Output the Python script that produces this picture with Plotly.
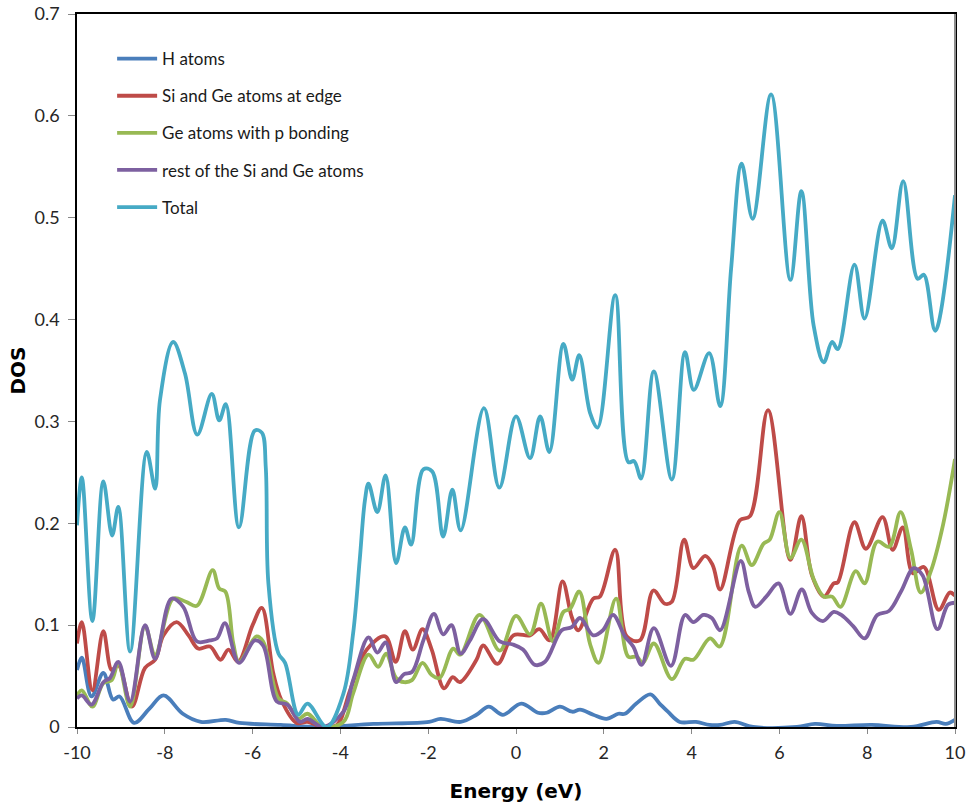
import plotly.graph_objects as go

# Energy grid (eV) and DOS values for each projection
e_h = [-10, -9.89, -9.67, -9.40, -9.18, -9.03, -8.70, -8.35, -8.03, -7.59, -7.18, -6.61, -6.30,
       -5.36, -4.5, -3.25, -1.98, -1.72, -1.26, -0.9, -0.62, -0.30, 0.12, 0.50, 0.70, 1.0, 1.28,
       1.46, 1.76, 2.06, 2.33, 2.48, 2.74, 3.06, 3.27, 3.46, 3.73, 4.1, 4.41, 4.65, 4.98, 5.4,
       6.4, 6.81, 7.3, 8.1, 9.0, 9.58, 9.79, 10]
dos_h = [0.056, 0.068, 0.030, 0.053, 0.027, 0.030, 0.004, 0.018, 0.031, 0.013, 0.005, 0.007, 0.004,
         0.002, 0.0, 0.003, 0.005, 0.008, 0.005, 0.012, 0.020, 0.012, 0.023, 0.014, 0.014, 0.020, 0.015,
         0.017, 0.012, 0.008, 0.013, 0.013, 0.023, 0.032, 0.023, 0.015, 0.005, 0.005, 0.002, 0.002, 0.005, 0.0,
         0.0, 0.003, 0.001, 0.002, 0.0, 0.005, 0.003, 0.007]

e_edge = [-10, -9.89, -9.65, -9.40, -9.21, -9.06, -8.75, -8.45, -8.22, -8.03, -7.73, -7.46, -7.24,
          -6.97, -6.73, -6.55, -6.33, -6.0, -5.79, -5.53, -5.34, -5.0, -4.75, -4.4, -4.08, -3.78,
          -3.40, -2.98, -2.74, -2.53, -2.35, -2.13, -1.92, -1.64, -1.44, -1.28, -0.90, -0.75, -0.42,
          -0.06, 0.32, 0.53, 0.77, 1.06, 1.27, 1.42, 1.76, 1.91, 2.26, 2.52, 2.82, 3.13, 3.39, 3.55,
          3.83, 4.04, 4.31, 4.48, 4.65, 5.10, 5.33, 5.74, 6.25, 6.50, 6.74, 7.01, 7.24, 7.33, 7.71,
          7.97, 8.35, 8.58, 8.81, 9.04, 9.29, 9.63, 9.88, 10]
dos_edge = [0.082, 0.103, 0.036, 0.094, 0.056, 0.061, 0.020, 0.058, 0.066, 0.090, 0.103, 0.090, 0.077,
            0.079, 0.066, 0.076, 0.064, 0.100, 0.117, 0.053, 0.026, 0.004, 0.005, 0.0, 0.002, 0.036,
            0.076, 0.089, 0.064, 0.094, 0.076, 0.096, 0.076, 0.038, 0.049, 0.044, 0.066, 0.080, 0.062,
            0.090, 0.090, 0.096, 0.085, 0.143, 0.108, 0.095, 0.126, 0.128, 0.174, 0.089, 0.085, 0.134, 0.121, 0.123,
            0.184, 0.156, 0.168, 0.159, 0.135, 0.203, 0.207, 0.311, 0.164, 0.207, 0.149, 0.128, 0.141, 0.142, 0.201,
            0.175, 0.206, 0.174, 0.196, 0.151, 0.157, 0.115, 0.132, 0.129]

e_gep = [-10, -9.89, -9.65, -9.40, -9.21, -9.06, -8.79, -8.45, -8.22, -7.81, -7.52, -7.27, -6.91,
         -6.76, -6.62, -6.44, -6.31, -5.91, -5.76, -5.41, -5.21, -4.96, -4.75, -4.4, -3.93, -3.71,
         -3.36, -3.14, -2.96, -2.73, -2.55, -2.37, -2.13, -1.92, -1.74, -1.43, -1.27, -0.83, -0.37,
         0.0, 0.32, 0.57, 0.84, 1.08, 1.23, 1.44, 1.69, 1.88, 2.28, 2.56, 2.75, 2.89, 3.14, 3.55,
         3.85, 4.04, 4.42, 4.64, 5.14, 5.37, 5.64, 5.78, 6.0, 6.25, 6.50, 6.78, 7.01, 7.20, 7.39,
         7.74, 7.94, 8.23, 8.50, 8.76, 9.0, 9.22, 9.45, 9.73, 10]
dos_gep = [0.031, 0.036, 0.020, 0.043, 0.046, 0.063, 0.020, 0.099, 0.071, 0.126, 0.123, 0.119, 0.154,
           0.136, 0.133, 0.082, 0.064, 0.089, 0.084, 0.028, 0.023, 0.008, 0.013, 0.0, 0.005, 0.033,
           0.071, 0.059, 0.072, 0.048, 0.044, 0.046, 0.063, 0.051, 0.048, 0.077, 0.071, 0.110, 0.075,
           0.109, 0.091, 0.121, 0.084, 0.113, 0.116, 0.133, 0.081, 0.063, 0.126, 0.069, 0.069, 0.063, 0.082, 0.047,
           0.067, 0.066, 0.087, 0.079, 0.178, 0.159, 0.180, 0.184, 0.211, 0.166, 0.184, 0.145, 0.128, 0.128, 0.118,
           0.153, 0.141, 0.182, 0.177, 0.211, 0.174, 0.132, 0.153, 0.199, 0.263]

e_rest = [-10, -9.89, -9.67, -9.40, -9.25, -9.06, -8.79, -8.45, -8.22, -7.85, -7.58, -7.27, -6.97,
          -6.81, -6.63, -6.31, -5.95, -5.76, -5.45, -5.21, -4.92, -4.75, -4.4, -3.93, -3.71, -3.36,
          -3.16, -2.97, -2.73, -2.55, -2.37, -2.11, -1.87, -1.66, -1.47, -1.26, -1.05, -0.75, -0.37,
          -0.07, 0.16, 0.43, 0.66, 1.04, 1.27, 1.46, 1.76, 1.98, 2.21, 2.48, 2.67, 2.86, 3.14, 3.53,
          3.85, 4.04, 4.27, 4.46, 4.65, 5.12, 5.30, 5.45, 5.70, 5.98, 6.25, 6.51, 6.74, 6.99, 7.24,
          7.41, 7.68, 7.94, 8.23, 8.50, 8.77, 9.06, 9.26, 9.60, 9.84, 10]
dos_rest = [0.028, 0.031, 0.022, 0.044, 0.048, 0.064, 0.025, 0.100, 0.067, 0.126, 0.118, 0.084, 0.085,
            0.087, 0.102, 0.063, 0.085, 0.080, 0.025, 0.022, 0.005, 0.008, 0.0, 0.015, 0.046, 0.088,
            0.073, 0.083, 0.044, 0.052, 0.054, 0.085, 0.111, 0.091, 0.100, 0.072, 0.085, 0.106, 0.084,
            0.081, 0.076, 0.061, 0.064, 0.095, 0.098, 0.107, 0.090, 0.095, 0.110, 0.089, 0.079, 0.061, 0.097, 0.060,
            0.110, 0.103, 0.110, 0.107, 0.095, 0.163, 0.133, 0.118, 0.128, 0.141, 0.111, 0.135, 0.112, 0.104, 0.113,
            0.110, 0.099, 0.087, 0.110, 0.114, 0.133, 0.156, 0.149, 0.096, 0.120, 0.122]

e_total = [-10, -9.89, -9.65, -9.40, -9.20, -9.06, -8.79, -8.41, -8.22, -8.11, -7.81, -7.54, -7.26,
           -6.93, -6.76, -6.61, -6.31, -5.95, -5.79, -5.70, -5.64, -5.41, -5.26, -4.96, -4.75, -4.31,
           -3.93, -3.71, -3.56, -3.44, -3.36, -3.16, -2.97, -2.73, -2.53, -2.39, -2.11, -1.91, -1.66,
           -1.45, -1.26, -0.73, -0.38, 0.0, 0.32, 0.55, 0.76, 1.08, 1.28, 1.44, 1.69, 1.86, 2.26,
           2.56, 2.69, 2.85, 3.14, 3.55, 3.85, 4.05, 4.40, 4.65, 4.90, 5.14, 5.39, 5.81, 6.25, 6.50,
           6.78, 7.01, 7.20, 7.33, 7.71, 7.94, 8.35, 8.56, 8.82, 9.15, 9.29, 9.55, 10]
dos_total = [0.198, 0.245, 0.104, 0.241, 0.188, 0.216, 0.074, 0.270, 0.234, 0.321, 0.378, 0.347, 0.287,
             0.327, 0.301, 0.317, 0.196, 0.291, 0.289, 0.255, 0.141, 0.072, 0.063, 0.012, 0.023, 0.0,
             0.033, 0.092, 0.164, 0.223, 0.239, 0.211, 0.247, 0.161, 0.196, 0.179, 0.253, 0.251, 0.187,
             0.233, 0.193, 0.313, 0.235, 0.305, 0.264, 0.305, 0.270, 0.376, 0.341, 0.365, 0.308, 0.294, 0.424,
             0.260, 0.261, 0.244, 0.349, 0.243, 0.368, 0.331, 0.367, 0.315, 0.450, 0.553, 0.499, 0.621, 0.439, 0.526,
             0.394, 0.358, 0.378, 0.371, 0.454, 0.401, 0.497, 0.470, 0.536, 0.440, 0.444, 0.389, 0.522]

series = [
    ("H atoms", e_h, dos_h, "#4A7EBB"),
    ("Si and Ge atoms at edge", e_edge, dos_edge, "#BE4B48"),
    ("Ge atoms with p bonding", e_gep, dos_gep, "#98B954"),
    ("rest of the Si and Ge atoms", e_rest, dos_rest, "#7D60A0"),
    ("Total", e_total, dos_total, "#46AAC5"),
]

x_ticks = [-10, -8, -6, -4, -2, 0, 2, 4, 6, 8, 10]
y_ticks = [0, 0.1, 0.2, 0.3, 0.4, 0.5, 0.6, 0.7]
y_ticktext = ["0", "0.1", "0.2", "0.3", "0.4", "0.5", "0.6", "0.7"]

fig = go.Figure()
for i, (name, xs, ys, color) in enumerate(series):
    fig.add_trace(go.Scatter(
        x=xs, y=ys, name=name, mode="lines",
        line=dict(color=color, width=3.8, shape="spline", smoothing=1.0),
        legendgroup=f"g{i}",
    ))

tick_font = dict(family="Lato, Open Sans, sans-serif", size=18, color="#262626")
title_font = dict(family="DejaVu Sans, sans-serif", size=20, color="black")

fig.update_layout(
    width=971, height=807,
    margin=dict(l=77, r=16, t=14, b=80),
    paper_bgcolor="white", plot_bgcolor="white",
    showlegend=True,
    legend=dict(
        x=0.04, y=0.962, xanchor="left", yanchor="top",
        font=dict(family="Lato, Open Sans, sans-serif", size=17, color="#1a1a1a"),
        bgcolor="rgba(0,0,0,0)", tracegroupgap=12,
        itemwidth=40,
    ),
    xaxis=dict(
        range=[-10, 10], tickvals=x_ticks, ticktext=[str(v) for v in x_ticks],
        showgrid=False, zeroline=False, automargin=False,
        showline=True, linecolor="black", linewidth=1.5, mirror=True,
        ticks="outside", ticklen=5, tickcolor="#888888",
        ticklabelstandoff=4,
        tickfont=tick_font,
        title=dict(text="<b>Energy (eV)</b>", standoff=22, font=title_font),
    ),
    yaxis=dict(
        range=[0, 0.7], tickvals=y_ticks, ticktext=y_ticktext,
        showgrid=False, zeroline=False, automargin=False,
        showline=True, linecolor="black", linewidth=1.5, mirror=True,
        ticks="outside", ticklen=7, tickcolor="#888888",
        ticklabelstandoff=5,
        tickfont=tick_font,
        title=dict(text="<b>DOS</b>", standoff=4, font=title_font),
    ),
    shapes=[dict(type="line", xref="paper", yref="paper", x0=1, x1=1, y0=0, y1=1,
                 line=dict(color="#8c8c8c", width=2))],
)

fig.write_html("out.html")
